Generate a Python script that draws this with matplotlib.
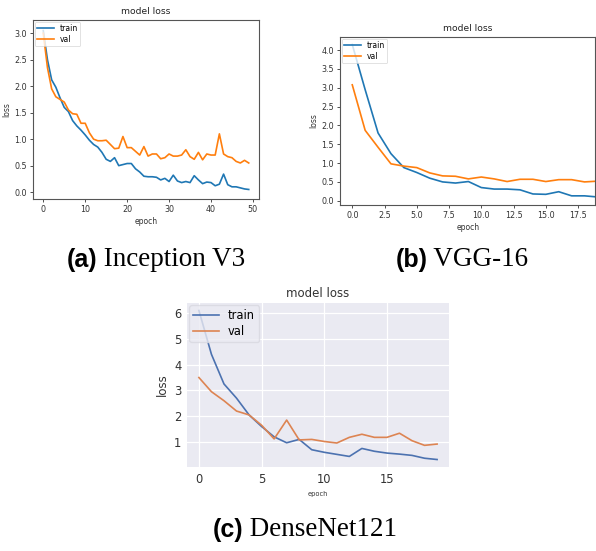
import matplotlib
matplotlib.use("Agg")
import matplotlib.pyplot as plt
from matplotlib.offsetbox import TextArea, HPacker, AnnotationBbox

# ---------------- data ----------------
epochs_a = list(range(50))
train_a = [3.05, 2.5, 2.12, 1.98, 1.78, 1.6, 1.52, 1.35, 1.25, 1.17,
           1.08, 0.98, 0.9, 0.85, 0.75, 0.62, 0.58, 0.65, 0.5, 0.52,
           0.54, 0.54, 0.44, 0.38, 0.3, 0.29, 0.29, 0.28, 0.23, 0.26,
           0.2, 0.32, 0.21, 0.18, 0.2, 0.18, 0.31, 0.23, 0.16, 0.19,
           0.18, 0.12, 0.15, 0.34, 0.14, 0.1, 0.1, 0.08, 0.06, 0.05]
val_a = [3.0, 2.35, 1.95, 1.8, 1.75, 1.7, 1.55, 1.48, 1.47, 1.3,
         1.3, 1.12, 1.0, 0.97, 0.97, 0.98, 0.9, 0.82, 0.83, 1.05,
         0.84, 0.84, 0.77, 0.7, 0.86, 0.68, 0.72, 0.72, 0.63, 0.65,
         0.72, 0.68, 0.68, 0.7, 0.8, 0.67, 0.62, 0.75, 0.61, 0.72,
         0.7, 0.7, 1.1, 0.72, 0.67, 0.65, 0.58, 0.55, 0.6, 0.55]

epochs_b = list(range(20))
train_b = [4.15, 2.95, 1.8, 1.25, 0.88, 0.75, 0.6, 0.5, 0.47, 0.51,
           0.35, 0.31, 0.31, 0.29, 0.18, 0.17, 0.24, 0.13, 0.13, 0.1]
val_b = [3.08, 1.87, 1.42, 0.98, 0.92, 0.88, 0.74, 0.66, 0.65, 0.58,
         0.63, 0.58, 0.51, 0.57, 0.57, 0.51, 0.56, 0.56, 0.5, 0.52]

epochs_c = list(range(20))
train_c = [6.1, 4.4, 3.25, 2.7, 2.05, 1.6, 1.2, 0.97, 1.1, 0.7,
           0.6, 0.52, 0.44, 0.75, 0.64, 0.57, 0.53, 0.48, 0.37, 0.32]
val_c = [3.5, 2.95, 2.6, 2.2, 2.05, 1.65, 1.12, 1.85, 1.08, 1.1,
         1.02, 0.96, 1.18, 1.3, 1.18, 1.18, 1.34, 1.05, 0.87, 0.92]

captions = [("(a)", " Inception V3"), ("(b)", " VGG-16"), ("(c)", " DenseNet121")]
legend_labels = ["train", "val"]

W, H = 596, 551
fig = plt.figure(figsize=(W / 100, H / 100), dpi=100)


def box(l, t, r, b):
    return [l / W, 1 - b / H, (r - l) / W, (b - t) / H]


def classic_axes(rect, ex, tr, va, xlim, ylim, xticks, yticks, fmt):
    ax = fig.add_axes(rect)
    ax.plot(ex, tr, color="#1f77b4", lw=1.2, label=legend_labels[0])
    ax.plot(ex, va, color="#ff7f0e", lw=1.2, label=legend_labels[1])
    ax.set_xlim(*xlim)
    ax.set_ylim(*ylim)
    ax.set_xticks(xticks)
    ax.set_yticks(yticks)
    ax.set_xticklabels([fmt(v) for v in xticks])
    ax.set_yticklabels(["%.1f" % v for v in yticks])
    ax.tick_params(labelsize=5.8, length=2.5, width=0.6, pad=2,
                   colors="#333333")
    for s in ax.spines.values():
        s.set_color("#555555")
        s.set_linewidth(0.8)
    ax.set_title("model loss", fontsize=6.6, pad=4, color="#222222")
    ax.set_xlabel("epoch", fontsize=5.5, labelpad=2, color="#333333")
    ax.set_ylabel("loss", fontsize=5.5, labelpad=2, color="#333333")
    leg = ax.legend(loc="upper left", fontsize=5.5, handlelength=2.2,
                    borderpad=0.3, labelspacing=0.3, borderaxespad=0.2,
                    framealpha=0.8, fancybox=True)
    leg.get_frame().set_linewidth(0.5)
    return ax


# (a) Inception V3
classic_axes(box(33, 20, 259, 199), epochs_a, train_a, val_a,
             (-2.45, 51.45), (-0.13, 3.25), [0, 10, 20, 30, 40, 50],
             [0.0, 0.5, 1.0, 1.5, 2.0, 2.5, 3.0], lambda v: "%d" % v)

# (b) VGG-16
classic_axes(box(340, 37, 595.5, 204.5), epochs_b, train_b, val_b,
             (-0.95, 18.85), (-0.1, 4.35),
             [0.0, 2.5, 5.0, 7.5, 10.0, 12.5, 15.0, 17.5],
             [0.0, 0.5, 1.0, 1.5, 2.0, 2.5, 3.0, 3.5, 4.0],
             lambda v: "%.1f" % v)

# (c) DenseNet121 -- seaborn darkgrid look
axc = fig.add_axes(box(187, 303, 449, 467))
axc.set_facecolor("#eaeaf2")
axc.grid(True, color="white", lw=0.9)
axc.set_axisbelow(True)
for s in axc.spines.values():
    s.set_visible(False)
axc.plot(epochs_c, train_c, color="#4c72b0", lw=1.2, label=legend_labels[0])
axc.plot(epochs_c, val_c, color="#dd8452", lw=1.2, label=legend_labels[1])
axc.set_xlim(-0.95, 19.95)
axc.set_ylim(0.03, 6.39)
axc.set_xticks([0, 5, 10, 15])
axc.set_yticks([1, 2, 3, 4, 5, 6])
axc.tick_params(labelsize=8.3, length=0, pad=4, colors="#333333")
axc.set_title("model loss", fontsize=8.5, pad=4, color="#333333")
axc.set_xlabel("epoch", fontsize=4.8, labelpad=4, color="#333333")
axc.set_ylabel("loss", fontsize=8.5, labelpad=4, color="#333333")
legc = axc.legend(loc="upper left", fontsize=8.3, handlelength=2.2,
                  borderpad=0.35, labelspacing=0.25, borderaxespad=0.2,
                  framealpha=0.8, facecolor="#eaeaf2", edgecolor="#d8d8e0")

# captions (bold sans label + serif title)
cap_pos = [(156, 260), (462, 260), (305, 530)]
for (lab, name), (cx, cy) in zip(captions, cap_pos):
    t1 = TextArea(lab, textprops=dict(fontsize=18, fontweight="bold",
                                      family="Liberation Sans", color="black"))
    t2 = TextArea(name, textprops=dict(fontsize=19.5, family="Liberation Serif",
                                       color="black"))
    pack = HPacker(children=[t1, t2], align="baseline", pad=0, sep=0)
    ab = AnnotationBbox(pack, (cx / W, 1 - cy / H), xycoords="figure fraction",
                        frameon=False, box_alignment=(0.5, 0.5))
    fig.add_artist(ab)

fig.savefig("out.png", dpi=100, facecolor="white")
